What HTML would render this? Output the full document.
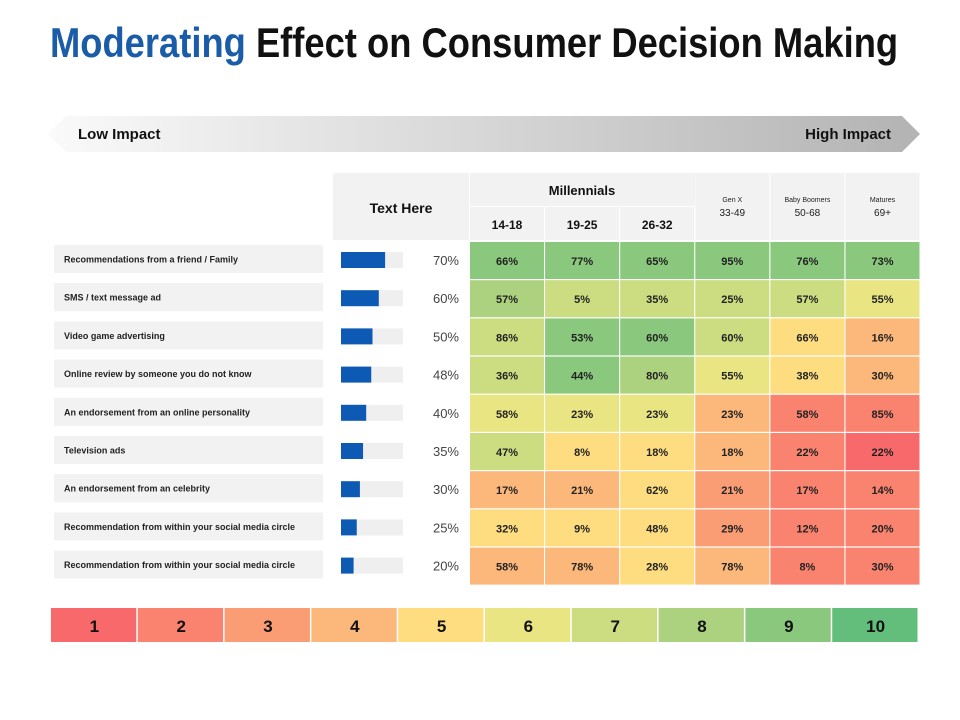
<!DOCTYPE html>
<html><head><meta charset="utf-8"><style>
body{margin:0;background:#fff;font-family:"Liberation Sans",Arial,sans-serif;}
#root{position:relative;width:960px;height:720px;overflow:hidden;}
.abs{position:absolute;}
</style></head><body><div id="root">
<div class="abs" id="title" style="left:50px;top:19px;font-size:42px;font-weight:bold;color:#111;white-space:nowrap;transform-origin:0 0;"><span style="color:#1a5ca8">Moderating</span> Effect on Consumer Decision Making</div>
<svg class="abs" style="left:0;top:0" width="960" height="720" id="svg">
<defs><linearGradient id="ag" x1="0" x2="1"><stop offset="0" stop-color="#fafafa"/><stop offset="1" stop-color="#b3b3b3"/></linearGradient></defs>
<polygon points="48,134 66,116 902,116 920,134 902,152 66,152" fill="url(#ag)"/>
<text x="78" y="139" font-size="15" font-weight="bold" fill="#111">Low Impact</text>
<text x="891" y="139" font-size="15" font-weight="bold" fill="#111" text-anchor="end">High Impact</text>
</svg>
<script>
const rowLabels=["Recommendations from a friend / Family","SMS / text message ad","Video game advertising","Online review by someone you do not know","An endorsement from an online personality","Television ads","An endorsement from an celebrity","Recommendation from within your social media circle","Recommendation from within your social media circle"];
const barValues=[70,60,50,48,40,35,30,25,20];
const colHeaders=["14-18","19-25","26-32","33-49","50-68","69+"];
const cellValues=[[66,77,65,95,76,73],[57,5,35,25,57,55],[86,53,60,60,66,16],[36,44,80,55,38,30],[58,23,23,23,58,85],[47,8,18,18,22,22],[17,21,62,21,17,14],[32,9,48,29,12,20],[58,78,28,78,8,30]];
const cellLevels=[[9,9,9,9,9,9],[8,7,7,7,7,6],[7,9,9,7,5,4],[7,9,8,6,5,4],[6,6,6,4,2,2],[7,5,5,4,2,1],[4,4,5,3,2,2],[5,5,5,3,2,2],[4,4,5,4,2,2]];
const scaleLevels=[1,2,3,4,5,6,7,8,9,10];
const palette=["#f8696b","#f9836f","#fa9d74","#fcb77a","#fedd81","#eae583","#cbdc81","#acd27f","#89c87d","#63be7b"];
const t=document.getElementById('title');
t.style.transform='scaleX('+(848/t.scrollWidth)+')';
const NS="http://www.w3.org/2000/svg";
const svg=document.getElementById('svg');
function mk(tag,attrs,txt){const e=document.createElementNS(NS,tag);for(const k in attrs)e.setAttribute(k,attrs[k]);if(txt!==undefined)e.textContent=txt;svg.appendChild(e);return e;}
const rowY=i=>242+i*38.2;
const colX=j=>470+j*75.1;
const barW=v=>v/100*63;
let e;
e=mk('rect',{x:333,y:173,width:136,height:67,fill:"#f2f2f2"});

e=mk('text',{x:401,y:213,"font-size":14,"font-weight":"bold","text-anchor":"middle",fill:"#111"},"Text Here");

e=mk('rect',{x:470,y:173,width:225,height:33,fill:"#f2f2f2"});

e=mk('text',{x:582,y:195,"font-size":13,"font-weight":"bold","text-anchor":"middle",fill:"#111"},"Millennials");

const groupNames=["Gen X","Baby Boomers","Matures"];
colHeaders.forEach((h,j)=>{
  if(j<3){
    e=mk('rect',{x:colX(j),y:207,width:74,height:33,fill:"#f2f2f2"});
    
    e=mk('text',{x:colX(j)+37,y:229,"font-size":12,"font-weight":"bold","text-anchor":"middle",fill:"#111"},h);
    
  }else{
    e=mk('rect',{x:colX(j),y:173,width:74,height:67,fill:"#f2f2f2"});
    
    e=mk('text',{x:colX(j)+37,y:202,"font-size":7,"text-anchor":"middle",fill:"#222"},groupNames[j-3]);
    
    e=mk('text',{x:colX(j)+37,y:216,"font-size":10,"text-anchor":"middle",fill:"#222"},h);
    
  }
});
rowLabels.forEach((lab,i)=>{
  const y=rowY(i);
  e=mk('rect',{x:54,y:y+3,width:269,height:28,fill:"#f2f2f2"});
  
  e=mk('text',{x:64,y:y+20.5,"font-size":9,"font-weight":"bold",fill:"#222"},lab);
  
  e=mk('rect',{x:341,y:y+10,width:62,height:16,fill:"#efefef"});
  
  e=mk('rect',{x:341,y:y+10,width:barW(barValues[i]),height:16,fill:"#0d5ab4"});
  
  e=mk('text',{x:459,y:y+23,"font-size":13,"text-anchor":"end",fill:"#444"},barValues[i]+"%");
  
  cellValues[i].forEach((v,j)=>{
    e=mk('rect',{x:colX(j),y:y,width:74,height:37,fill:palette[cellLevels[i][j]-1]});
    
    e=mk('text',{x:colX(j)+37,y:y+23,"font-size":11,"font-weight":"bold","text-anchor":"middle",fill:"#222"},v+"%");
    
  });
});
const sw=868/10;
scaleLevels.forEach((l,k)=>{
  e=mk('rect',{x:51+k*sw,y:608,width:sw-1.5,height:34,fill:palette[l-1]});
  
  e=mk('text',{x:51+k*sw+sw/2,y:632,"font-size":17,"font-weight":"bold","text-anchor":"middle",fill:"#111"},String(l));
  
});
</script>
</div></body></html>
